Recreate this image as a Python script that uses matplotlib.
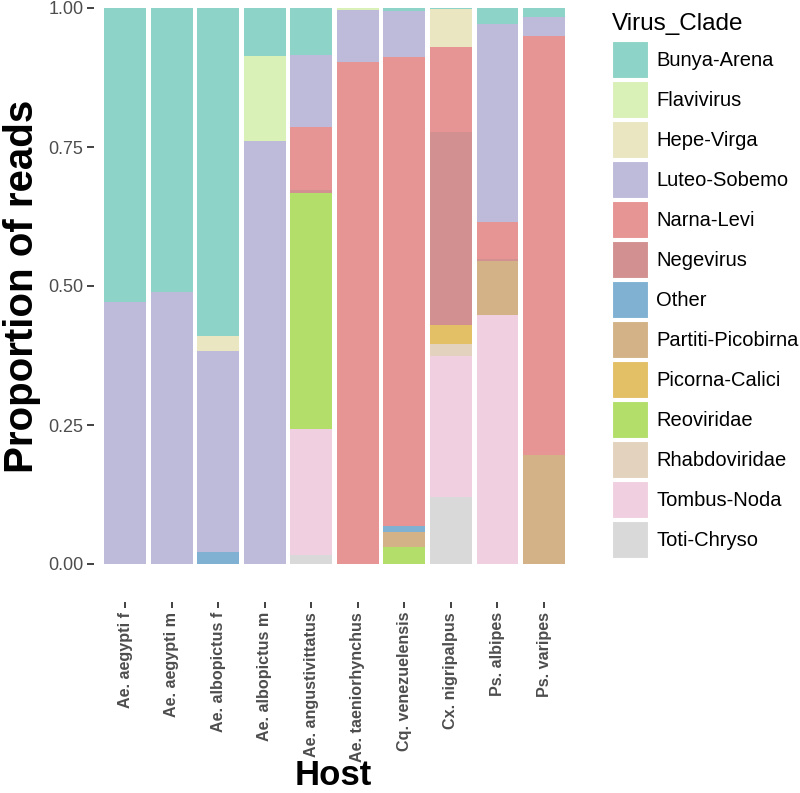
import numpy as np
import matplotlib
matplotlib.use("Agg")
import matplotlib.pyplot as plt
from matplotlib.patches import Patch

plt.rcParams['font.family'] = ['Liberation Sans', 'DejaVu Sans']

# ----------------------------------------------------
# Data (proportion of reads per host, per virus clade)
# ----------------------------------------------------

hosts = [
    "Ae. aegypti f", "Ae. aegypti m", "Ae. albopictus f", "Ae. albopictus m",
    "Ae. angustivittatus", "Ae. taeniorhynchus", "Cq. venezuelensis",
    "Cx. nigripalpus", "Ps. albipes", "Ps. varipes",
]

clades = [
    "Bunya-Arena", "Flavivirus", "Hepe-Virga", "Luteo-Sobemo", "Narna-Levi",
    "Negevirus", "Other", "Partiti-Picobirna", "Picorna-Calici", "Reoviridae",
    "Rhabdoviridae", "Tombus-Noda", "Toti-Chryso",
]

bunya_arena = [0.529, 0.511, 0.590, 0.086, 0.085, 0.000, 0.005, 0.002, 0.028, 0.017]
flavivirus = [0.000, 0.000, 0.000, 0.153, 0.000, 0.003, 0.000, 0.000, 0.000, 0.000]
hepe_virga = [0.000, 0.000, 0.027, 0.000, 0.000, 0.000, 0.000, 0.069, 0.000, 0.000]
luteo_sobemo = [0.471, 0.489, 0.361, 0.761, 0.129, 0.094, 0.084, 0.000, 0.357, 0.033]
narna_levi = [0.000, 0.000, 0.000, 0.000, 0.114, 0.903, 0.842, 0.152, 0.066, 0.754]
negevirus = [0.000, 0.000, 0.000, 0.000, 0.004, 0.000, 0.000, 0.347, 0.004, 0.000]
other = [0.000, 0.000, 0.022, 0.000, 0.000, 0.000, 0.011, 0.000, 0.000, 0.000]
partiti_picobirna = [0.000, 0.000, 0.000, 0.000, 0.000, 0.000, 0.027, 0.000, 0.098, 0.196]
picorna_calici = [0.000, 0.000, 0.000, 0.000, 0.000, 0.000, 0.000, 0.035, 0.000, 0.000]
reoviridae = [0.000, 0.000, 0.000, 0.000, 0.425, 0.000, 0.031, 0.000, 0.000, 0.000]
rhabdoviridae = [0.000, 0.000, 0.000, 0.000, 0.000, 0.000, 0.000, 0.020, 0.000, 0.000]
tombus_noda = [0.000, 0.000, 0.000, 0.000, 0.227, 0.000, 0.000, 0.254, 0.447, 0.000]
toti_chryso = [0.000, 0.000, 0.000, 0.000, 0.016, 0.000, 0.000, 0.121, 0.000, 0.000]

values = [
    bunya_arena, flavivirus, hepe_virga, luteo_sobemo, narna_levi, negevirus,
    other, partiti_picobirna, picorna_calici, reoviridae, rhabdoviridae,
    tombus_noda, toti_chryso,
]

colors = [
    "#8ED3C7", "#D9F0B7", "#E9E6C1", "#BEBADA", "#E69494", "#D29090",
    "#80B1D3", "#D3B287", "#E3C066", "#B3DE6A", "#E3D3BE", "#F0D0E0",
    "#D9D9D9",
]

# ----------------------------------------------------
# Plot
# ----------------------------------------------------

fig = plt.figure(figsize=(8, 7.93), dpi=100)
ax = fig.add_axes([94 / 800, 1 - 564 / 793, 478 / 800, 556 / 793])

x = np.arange(len(hosts))
bottom = np.zeros(len(hosts))

# ggplot stacks the last factor level at the bottom
for name, vals, col in reversed(list(zip(clades, values, colors))):
    vals = np.array(vals)
    ax.bar(x, vals, width=0.9, bottom=bottom, color=col, linewidth=0)
    bottom += vals

ax.set_xlim(-0.666, len(hosts) - 0.399)
ax.set_ylim(0, 1)

for side in ["top", "right", "left", "bottom"]:
    ax.spines[side].set_visible(False)
ax.spines["bottom"].set_position(("outward", 27))

ax.set_yticks([0, 0.25, 0.5, 0.75, 1.0])
ax.set_yticklabels(["0.00", "0.25", "0.50", "0.75", "1.00"])
ax.tick_params(axis="y", length=5, width=1.3, color="#333333",
               labelsize=13, labelcolor="#4D4D4D", pad=2.5)

ax.set_xticks(x)
ax.set_xticklabels(hosts, rotation=90, fontweight="bold")
ax.tick_params(axis="x", length=4.5, width=1.3, color="#333333",
               labelsize=11.6, labelcolor="#4D4D4D", pad=3)

ax.set_ylabel("Proportion of reads", fontsize=29, fontweight="bold", labelpad=5)
ax.set_xlabel("Host", fontsize=25, fontweight="bold")
ax.xaxis.set_label_coords(0.5, -0.35)

# legend title drawn separately so its gap to the keys matches ggplot
fig.text(612 / 800, 1 - 30 / 793, "Virus_Clade", fontsize=17.5,
         ha="left", va="baseline")

handles = [Patch(facecolor=c, edgecolor="white", linewidth=0.8) for c in colors]
leg = fig.legend(
    handles, clades,
    loc="upper left",
    bbox_to_anchor=(612 / 800, 1 - 41 / 793),
    frameon=False,
    fontsize=14.5,
    handlelength=1.8,
    handleheight=2.45,
    labelspacing=0.15,
    handletextpad=0.4,
    borderpad=0,
    borderaxespad=0,
)

fig.savefig("out.png", dpi=100)
plt.close(fig)
